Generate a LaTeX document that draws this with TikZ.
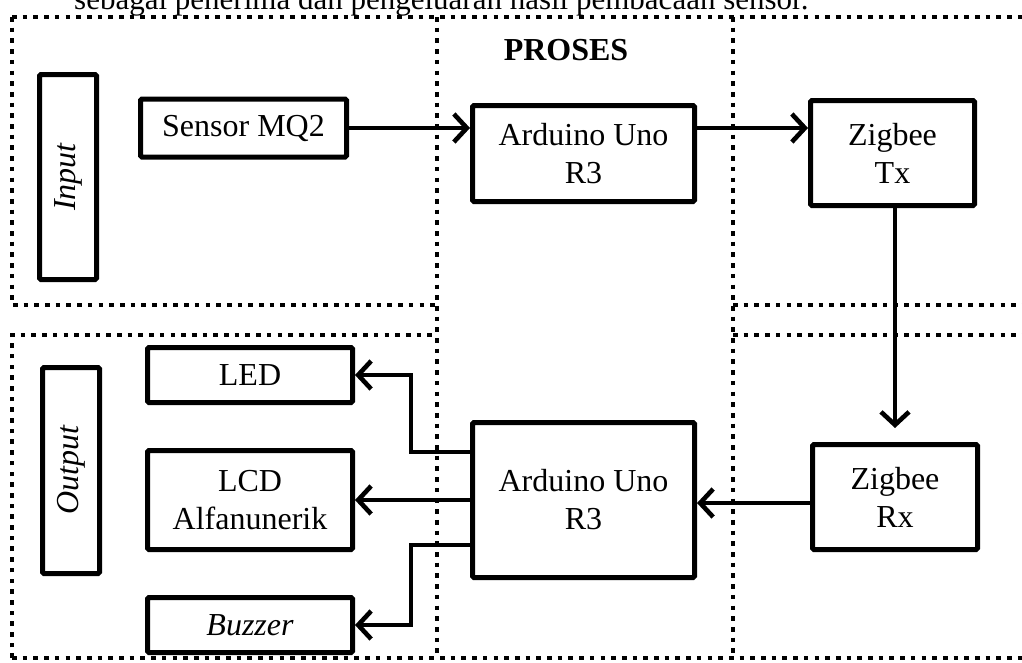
\documentclass[tikz,border=0pt]{standalone}
\usepackage{fontspec}
\setmainfont{Liberation Serif}
\usetikzlibrary{arrows.meta,calc}
\begin{document}
\begin{tikzpicture}[x=1pt,y=-1pt,
  box/.style={draw=black, line width=5pt, rounded corners=1.5pt, inner sep=0pt, align=center,
    font=\fontsize{32}{38}\selectfont, fill=white},
  dots/.style={line width=4.6pt, dash pattern=on 4.6pt off 6.1pt},
  arr/.style={line width=4.6pt, -{Straight Barb[length=13pt,width=28pt,line width=4.6pt]}, line join=miter},
  lbl/.style={font=\fontsize{32}{38}\selectfont}]
\useasboundingbox (0,0) rectangle (1022,662);
\fill[white] (0,0) rectangle (1022,662);
% cut-off sentence above the diagram
\node[anchor=base west, inner sep=0pt, font=\fontsize{31}{36}\selectfont] (cap) at (74,9) {sebagai penerima dan pengeluaran hasil pembacaan sensor.};
% dotted frames
\coordinate (tl) at (12,17);
\coordinate (tr) at (1024,17);
\coordinate (bl) at (12,658);
\coordinate (br) at (1024,658);
\draw[dots] (tl) -- (tr);
\draw[dots] (bl) -- (br);
\draw[dots] (tl) -- (12,305) -- (437,305);
\draw[dots] (bl) -- (12,335) -- (437,335);
\draw[dots] (437,17) -- (437,658);
\draw[dots] (733,17) -- (733,658);
\draw[dots] (733,305) -- (1024,305);
\draw[dots] (733,335) -- (1024,335);
% title
\node[font=\fontsize{32}{38}\selectfont\bfseries] (proses) at (566,50) {PROSES};
% boxes
\node[box, minimum width=57pt, minimum height=205pt] (input) at (68,177) {};
\node[lbl, rotate=90, font=\fontsize{32}{38}\selectfont\itshape] (inputlbl) at (input.center) {Input};
\node[box, minimum width=57pt, minimum height=206pt] (output) at (71,470.5) {};
\node[lbl, rotate=90, font=\fontsize{32}{38}\selectfont\itshape] (outputlbl) at (output.center) {Output};
\node[box, minimum width=206pt, minimum height=58pt] (sensor) at (243.5,128) {Sensor MQ2};
\node[box, minimum width=222pt, minimum height=96pt] (ard1) at (583.5,153.5) {Arduino Uno\\R3};
\node[box, minimum width=164pt, minimum height=105pt] (zigtx) at (892.5,153) {Zigbee\\Tx};
\node[box, minimum width=165pt, minimum height=105pt] (zigrx) at (895,497) {Zigbee\\Rx};
\node[box, minimum width=222pt, minimum height=155pt] (ard2) at (583.5,500) {Arduino Uno\\R3};
\node[box, minimum width=205pt, minimum height=55pt] (led) at (250,375) {LED};
\node[box, minimum width=205pt, minimum height=99pt] (lcd) at (250,500) {LCD\\Alfanunerik};
\node[box, minimum width=205pt, minimum height=55pt, font=\fontsize{32}{38}\selectfont\itshape] (buzzer) at (250,625) {Buzzer};
% connectors
\draw[arr] (sensor.east) -- (sensor.east -| ard1.west);
\draw[arr] (sensor.east -| ard1.east) -- (sensor.east -| zigtx.west);
\draw[arr, shorten >=14pt] (zigtx.south -| zigrx.north) -- (zigrx.north);
\draw[arr] ($(zigrx.west)+(0,6)$) -- ($(zigrx.west -| ard2.east)+(0,6)$);
\draw[arr] ($(ard2.north west)+(0,32)$) -- ++(-59,0) |- (led.east);
\draw[arr] (lcd.east -| ard2.west) -- (lcd.east);
\draw[arr] ($(ard2.south west)+(0,-35)$) -- ++(-59,0) |- (buzzer.east);
\end{tikzpicture}
\end{document}
